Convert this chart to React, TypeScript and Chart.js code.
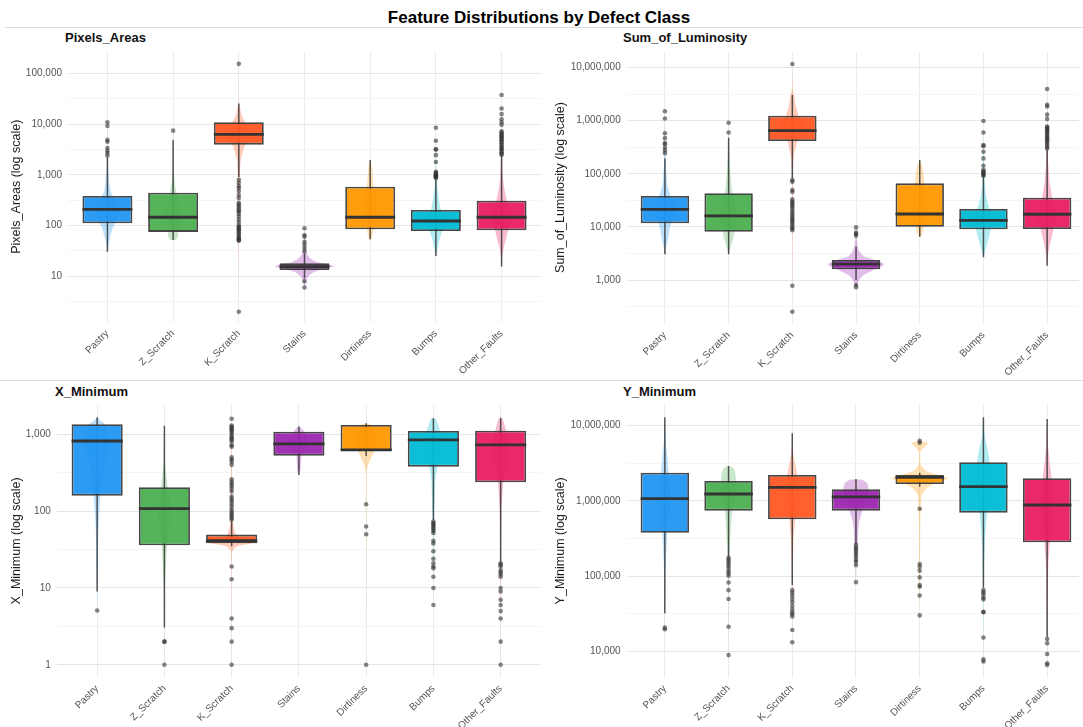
import React, { useEffect, useRef } from 'react';
import { Chart, registerables } from 'chart.js';
Chart.register(...registerables);

const FONT = '"Liberation Sans", Arial, Helvetica, sans-serif';
Chart.defaults.font.family = FONT;

const categories = ['Pastry', 'Z_Scratch', 'K_Scratch', 'Stains', 'Dirtiness', 'Bumps', 'Other_Faults'];
const classColors = ['#2196F3', '#4CAF50', '#FF5722', '#9C27B0', '#FF9800', '#00BCD4', '#E91E63'];

// Box statistics per class: [whiskerLow, q1, median, q3, whiskerHigh]
const pixelsBox = [
  [30.5, 111, 209, 384, 2200],
  [52, 75, 146, 445, 4870],
  [910, 3950, 6300, 10900, 25700],
  [9.1, 13.3, 15.5, 18, 28.5],
  [53.7, 84.5, 146, 585, 1970],
  [25, 78, 123, 203, 800],
  [15.5, 80.7, 146, 310, 2450],
];
const pixelsOutliers = [
  [10900, 9200, 4900, 4500, 3400, 3000, 2700, 2400],
  [7450],
  [155000, 800, 700, 600, 550, 480, 400, 350, 280, 260, 240, 220, 200, 190, 170, 150, 130, 115, 100, 95, 90, 85, 80, 75, 70, 65, 60, 57, 54, 52, 50, 2],
  [88.5, 65, 60, 48, 42, 36, 31, 8, 6],
  [],
  [8500, 4700, 3200, 3150, 2450, 1800, 1150, 1100, 1050, 1000, 980, 950, 920, 900, 870],
  [37700, 20400, 15800, 12500, 10900, 9700, 7200, 6800, 6400, 6000, 5700, 5400, 5100, 4800, 4500, 4200, 3900, 3600, 3400, 3200, 3000, 2800, 2600, 2500],
];
// Violin profiles per class: [value, half-width of density]
const pixelsViolin = [
  [[30, 0], [45, 0.02], [65, 0.05], [90, 0.08], [111, 0.12], [209, 0.2], [384, 0.08], [500, 0.045], [800, 0.025], [1500, 0.01], [2500, 0.005], [5000, 0.002], [10900, 0]],
  [[52, 0.04], [58, 0.07], [75, 0.08], [150, 0.12], [300, 0.09], [445, 0.05], [700, 0.025], [1000, 0.015], [2000, 0.006], [5000, 0.002], [7450, 0]],
  [[2, 0], [10, 0.001], [50, 0.004], [200, 0.007], [800, 0.012], [2000, 0.03], [3950, 0.1], [6300, 0.25], [10900, 0.1], [15000, 0.045], [20000, 0.025], [26000, 0.004], [50000, 0.001], [155000, 0]],
  [[6, 0], [8, 0.02], [10, 0.06], [12, 0.14], [14, 0.3], [15.5, 0.45], [17, 0.38], [19, 0.2], [22, 0.1], [26, 0.05], [32, 0.02], [50, 0.008], [88, 0]],
  [[53, 0.015], [60, 0.03], [85, 0.05], [150, 0.1], [300, 0.08], [585, 0.05], [900, 0.04], [1300, 0.03], [1700, 0.015], [2000, 0]],
  [[25, 0], [35, 0.025], [50, 0.05], [65, 0.075], [78, 0.1], [120, 0.2], [203, 0.08], [350, 0.04], [600, 0.02], [1000, 0.01], [2000, 0.004], [8500, 0]],
  [[15.5, 0], [25, 0.01], [40, 0.04], [55, 0.07], [80, 0.1], [146, 0.18], [310, 0.08], [600, 0.035], [1000, 0.018], [2500, 0.008], [6000, 0.003], [37700, 0]],
];
const pixelsTicks = [10, 100, 1000, 10000, 100000];
const pixelsRange = [1.27, 269000];

const lumBox = [
  [3050, 11700, 21400, 38200, 195000],
  [3050, 8130, 16200, 43000, 480000],
  [82000, 415000, 649000, 1240000, 3050000],
  [1000, 1590, 2000, 2380, 4250],
  [6550, 10100, 17500, 66200, 182000],
  [2670, 9000, 13300, 21700, 88000],
  [1860, 9120, 17300, 35500, 281000],
];
const lumOutliers = [
  [1510000, 1100000, 580000, 470000, 380000, 360000, 310000, 275000, 245000],
  [916000, 600000],
  [11700000, 76000, 71000, 49500, 45700, 33000, 30000, 28000, 26000, 24000, 22000, 20000, 18000, 16500, 15000, 14000, 13000, 12000, 11000, 10000, 9300, 8700, 780, 253],
  [9800, 7800, 7350, 6800, 805, 730],
  [],
  [990000, 600000, 350000, 330000, 260000, 195000, 142000, 118000, 112000, 106000, 100000, 95000, 92000],
  [3950000, 2000000, 1850000, 1300000, 1080000, 780000, 740000, 700000, 660000, 620000, 580000, 540000, 500000, 470000, 440000, 410000, 380000, 350000, 320000, 300000],
];
const lumViolin = [
  [[3050, 0], [4500, 0.025], [7000, 0.06], [9500, 0.08], [11700, 0.1], [21000, 0.2], [38200, 0.09], [60000, 0.04], [150000, 0.015], [300000, 0.006], [1510000, 0]],
  [[3050, 0], [4500, 0.04], [6500, 0.08], [8130, 0.09], [16000, 0.13], [43000, 0.06], [80000, 0.035], [150000, 0.02], [400000, 0.006], [916000, 0]],
  [[253, 0], [1000, 0.001], [10000, 0.004], [80000, 0.008], [200000, 0.02], [415000, 0.08], [650000, 0.22], [1240000, 0.1], [2000000, 0.05], [3000000, 0.03], [4000000, 0.006], [11700000, 0]],
  [[730, 0], [900, 0.03], [1200, 0.1], [1500, 0.25], [1800, 0.4], [2000, 0.44], [2300, 0.33], [2800, 0.12], [3500, 0.05], [5000, 0.02], [7000, 0.008], [9800, 0]],
  [[6550, 0.015], [7500, 0.04], [10100, 0.065], [17500, 0.12], [40000, 0.09], [66200, 0.075], [110000, 0.055], [150000, 0.03], [182000, 0]],
  [[2670, 0], [4000, 0.04], [6000, 0.08], [9000, 0.12], [13300, 0.2], [21700, 0.1], [40000, 0.04], [80000, 0.015], [200000, 0.005], [990000, 0]],
  [[1860, 0], [3000, 0.015], [5000, 0.05], [7000, 0.08], [9120, 0.1], [17300, 0.17], [35500, 0.08], [70000, 0.04], [150000, 0.018], [400000, 0.007], [1000000, 0.003], [3950000, 0]],
];
const lumTicks = [1000, 10000, 100000, 1000000, 10000000];
const lumRange = [153, 19950000];

const xminBox = [
  [9, 159, 818, 1350, 1665],
  [3.05, 36, 108, 205, 1294],
  [35, 38.2, 41.3, 49.5, 75],
  [296, 527, 748, 1080, 1260],
  [520, 606, 625, 1320, 1390],
  [77, 379, 843, 1105, 1615],
  [22, 238, 726, 1114, 1645],
];
const xminOutliers = [
  [5.1],
  [2, 2, 1],
  [1590, 1300, 1250, 1200, 1150, 1100, 1050, 980, 920, 880, 850, 800, 720, 690, 500, 470, 440, 400, 260, 240, 225, 210, 195, 180, 155, 145, 135, 125, 115, 105, 98, 92, 87, 82, 78, 19, 13, 4, 3, 2, 1],
  [],
  [123, 63, 50, 1],
  [73, 70, 67, 64, 61, 58, 55, 52, 41, 38, 30, 24, 21, 19, 18, 14, 10, 6],
  [21, 20, 19, 17, 16, 15, 14, 10, 9, 7, 6, 5, 4, 2, 1],
];
const xminViolin = [
  [[5, 0], [9, 0.005], [20, 0.01], [60, 0.02], [159, 0.05], [400, 0.12], [818, 0.2], [1350, 0.12], [1500, 0.05], [1665, 0]],
  [[1, 0], [3, 0.003], [10, 0.008], [36, 0.04], [108, 0.1], [205, 0.05], [400, 0.012], [800, 0.005], [1294, 0]],
  [[1, 0], [13, 0.003], [30, 0.01], [35, 0.08], [38, 0.3], [39.5, 0.42], [41, 0.3], [45, 0.15], [50, 0.06], [70, 0.02], [150, 0.01], [500, 0.005], [1590, 0]],
  [[296, 0], [350, 0.025], [527, 0.04], [748, 0.15], [1080, 0.08], [1200, 0.04], [1260, 0]],
  [[1, 0], [50, 0.003], [120, 0.004], [300, 0.005], [380, 0.02], [480, 0.07], [606, 0.12], [800, 0.18], [1320, 0.08], [1390, 0]],
  [[6, 0], [20, 0.003], [50, 0.008], [100, 0.015], [250, 0.03], [379, 0.06], [843, 0.14], [1105, 0.1], [1400, 0.06], [1600, 0.035], [1615, 0]],
  [[1, 0], [5, 0.002], [20, 0.005], [100, 0.012], [238, 0.04], [726, 0.13], [1114, 0.08], [1400, 0.05], [1600, 0.025], [1645, 0]],
];
const xminTicks = [1, 10, 100, 1000];
const xminRange = [0.705, 2404];

const yminBox = [
  [32000, 377000, 1070000, 2370000, 12900000],
  [181000, 741000, 1235000, 1840000, 2910000],
  [76000, 569000, 1515000, 2210000, 7940000],
  [273000, 741000, 1128000, 1425000, 1935000],
  [1545000, 1678000, 2050000, 2210000, 2370000],
  [70000, 697000, 1545000, 3260000, 12900000],
  [15600, 281000, 881000, 2000000, 12300000],
];
const yminOutliers = [
  [20600, 19600],
  [175000, 165000, 155000, 145000, 135000, 125000, 115000, 108000, 101000, 82000, 65000, 49500, 21200, 8900],
  [65000, 60000, 55000, 50000, 45000, 40000, 36000, 33000, 31000, 29000, 19200, 13200],
  [260000, 240000, 225000, 210000, 195000, 180000, 165000, 155000, 140000, 83000],
  [6300000, 5940000, 787000, 145000, 133000, 118000, 96000, 76000, 72000, 55000, 30000],
  [65000, 61000, 57000, 52000, 49000, 33500, 33000, 15200, 7800, 7300],
  [14600, 12800, 9200, 6920, 6580],
];
const yminViolin = [
  [[19600, 0], [32000, 0.003], [100000, 0.008], [377000, 0.04], [1070000, 0.1], [2370000, 0.06], [3500000, 0.045], [6000000, 0.015], [12900000, 0]],
  [[8900, 0], [50000, 0.003], [150000, 0.01], [300000, 0.025], [741000, 0.06], [1235000, 0.12], [1840000, 0.12], [2500000, 0.1], [2800000, 0.06], [2910000, 0]],
  [[13200, 0], [30000, 0.003], [100000, 0.008], [300000, 0.02], [569000, 0.045], [1515000, 0.1], [2210000, 0.08], [3000000, 0.05], [4500000, 0.012], [7940000, 0]],
  [[83000, 0], [150000, 0.01], [250000, 0.025], [500000, 0.045], [741000, 0.1], [1128000, 0.18], [1425000, 0.2], [1750000, 0.17], [1900000, 0.1], [1935000, 0]],
  [[30000, 0], [60000, 0.004], [130000, 0.008], [500000, 0.01], [1200000, 0.03], [1500000, 0.12], [1800000, 0.3], [2000000, 0.45], [2200000, 0.3], [2500000, 0.1], [3000000, 0.02], [4500000, 0.01], [5300000, 0.08], [5900000, 0.14], [6300000, 0]],
  [[7300, 0], [30000, 0.003], [100000, 0.008], [300000, 0.025], [697000, 0.06], [1545000, 0.12], [3260000, 0.1], [4500000, 0.075], [7000000, 0.025], [12900000, 0]],
  [[6580, 0], [15000, 0.002], [50000, 0.008], [150000, 0.02], [281000, 0.045], [881000, 0.1], [2000000, 0.07], [3500000, 0.035], [6000000, 0.012], [12300000, 0]],
];
const yminTicks = [10000, 100000, 1000000, 10000000];
const yminRange = [4590, 18840000];

type Spec = {
  title: string;
  axisTitle: string;
  box: number[][];
  outliers: number[][];
  violin: number[][][];
  ticks: number[];
  range: number[];
  frame: { left: number; top: number; width: number; height: number };
  plot: { left: number; top: number; right: number; bottom: number };
  xMax: number;
  axisTitlePad: number;
  titleLeft: number;
  titleTop: number;
};

const panels: Spec[] = [
  {
    title: 'Pixels_Areas', axisTitle: 'Pixels_Areas (log scale)',
    box: pixelsBox, outliers: pixelsOutliers, violin: pixelsViolin, ticks: pixelsTicks, range: pixelsRange,
    frame: { left: 0, top: 45, width: 545, height: 330 },
    plot: { left: 68, top: 6.7, right: 542.9, bottom: 276.7 }, xMax: 7.6, axisTitlePad: 9.3,
    titleLeft: 65, titleTop: 30,
  },
  {
    title: 'Sum_of_Luminosity', axisTitle: 'Sum_of_Luminosity (log scale)',
    box: lumBox, outliers: lumOutliers, violin: lumViolin, ticks: lumTicks, range: lumRange,
    frame: { left: 545, top: 45, width: 538, height: 330 },
    plot: { left: 81.7, top: 6.7, right: 538, bottom: 278.3 }, xMax: 7.5, axisTitlePad: 7.6,
    titleLeft: 623, titleTop: 30,
  },
  {
    title: 'X_Minimum', axisTitle: 'X_Minimum (log scale)',
    box: xminBox, outliers: xminOutliers, violin: xminViolin, ticks: xminTicks, range: xminRange,
    frame: { left: 0, top: 398, width: 545, height: 329 },
    plot: { left: 56.8, top: 7, right: 542.8, bottom: 278.7 }, xMax: 7.6, axisTitlePad: 8.8,
    titleLeft: 55, titleTop: 384,
  },
  {
    title: 'Y_Minimum', axisTitle: 'Y_Minimum (log scale)',
    box: yminBox, outliers: yminOutliers, violin: yminViolin, ticks: yminTicks, range: yminRange,
    frame: { left: 545, top: 398, width: 538, height: 329 },
    plot: { left: 81.6, top: 7, right: 538, bottom: 278.7 }, xMax: 7.5, axisTitlePad: 7.6,
    titleLeft: 623, titleTop: 384,
  },
];

function hexA(hex: string, a: number) {
  const n = parseInt(hex.slice(1), 16);
  return `rgba(${(n >> 16) & 255},${(n >> 8) & 255},${n & 255},${a})`;
}
function isPow10(v: number) {
  const l = Math.log10(v);
  return Math.abs(l - Math.round(l)) < 1e-6;
}
function fmt(v: number) {
  const s = String(Math.round(v));
  return s.replace(/\B(?=(\d{3})+(?!\d))/g, ',');
}

function buildConfig(p: Spec): any {
  const datasets: any[] = [];
  const BOX_HALF = 0.38;
  p.violin.forEach((prof, i) => {
    const cx = i + 1;
    const right = prof.map(([v, w]) => ({ x: cx + w, y: v }));
    const left = prof.slice().reverse().map(([v, w]) => ({ x: cx - w, y: v }));
    datasets.push({
      type: 'line', data: [...right, ...left], fill: 'shape',
      backgroundColor: hexA(classColors[i], 0.3), borderColor: 'rgba(0,0,0,0)', borderWidth: 0,
      pointRadius: 0, tension: 0.15, order: 10,
    });
  });
  const whiskers: any[] = [];
  p.box.forEach((b, i) => {
    whiskers.push({ x: i + 1, y: b[0] }, { x: i + 1, y: b[4] }, { x: i + 1, y: null });
  });
  datasets.push({
    type: 'line', data: whiskers, borderColor: 'rgba(45,45,45,0.8)', borderWidth: 1.5,
    pointRadius: 0, spanGaps: false, order: 9,
  });
  datasets.push({
    type: 'bar', data: p.box.map((b, i) => ({ x: i + 1, y: [b[1], b[3]] })),
    backgroundColor: classColors.map((c) => hexA(c, 0.95)), borderColor: 'rgba(50,50,50,0.9)',
    borderWidth: 1.8, borderSkipped: false, barPercentage: BOX_HALF * 2, categoryPercentage: 1, order: 8,
  });
  const medians: any[] = [];
  p.box.forEach((b, i) => {
    medians.push({ x: i + 1 - BOX_HALF, y: b[2] }, { x: i + 1 + BOX_HALF, y: b[2] }, { x: i + 1.5, y: null });
  });
  datasets.push({
    type: 'line', data: medians, borderColor: '#333333', borderWidth: 2.8,
    pointRadius: 0, spanGaps: false, order: 7,
  });
  const pts: any[] = [];
  p.outliers.forEach((arr, i) => arr.forEach((v) => pts.push({ x: i + 1, y: v })));
  datasets.push({
    type: 'scatter', data: pts, backgroundColor: 'rgba(50,50,50,0.6)', borderWidth: 0,
    pointRadius: 2.3, order: 6,
  });

  const yTickValues: number[] = [];
  p.ticks.forEach((t) => {
    [t / Math.sqrt(10), t, t * Math.sqrt(10)].forEach((v) => {
      if (v >= p.range[0] && v <= p.range[1] && !yTickValues.some((u) => Math.abs(u - v) / v < 1e-6)) yTickValues.push(v);
    });
  });
  yTickValues.sort((a, b) => a - b);

  const H = p.frame.height;
  const W = p.frame.width;
  return {
    type: 'scatter',
    data: { datasets },
    options: {
      responsive: false,
      maintainAspectRatio: false,
      animation: false,
      events: [],
      layout: { padding: { top: p.plot.top, right: W - p.plot.right, left: 0, bottom: 0 } },
      plugins: { legend: { display: false }, tooltip: { enabled: false }, title: { display: false } },
      scales: {
        x: {
          type: 'linear', min: 0.4, max: p.xMax, offset: false,
          grid: { color: '#ebebeb', lineWidth: 1, drawTicks: false, offset: false },
          border: { display: false },
          afterBuildTicks: (s: any) => { s.ticks = categories.map((_, i) => ({ value: i + 1 })); },
          afterFit: (s: any) => { s.height = H - p.plot.bottom; s.paddingLeft = 0; s.paddingRight = 0; s.paddingTop = 0; s.paddingBottom = 0; },
          ticks: {
            autoSkip: false, maxRotation: 45, minRotation: 45, padding: 6,
            color: '#555555', font: { size: 10 },
            callback: (v: any) => categories[Math.round(Number(v)) - 1] ?? '',
          },
        },
        y: {
          type: 'logarithmic', min: p.range[0], max: p.range[1],
          grid: {
            drawTicks: false,
            color: (c: any) => (c.tick && isPow10(c.tick.value) ? '#e6e6e6' : '#f0f0f0'),
            lineWidth: (c: any) => (c.tick && isPow10(c.tick.value) ? 1 : 0.7),
          },
          border: { display: false },
          afterBuildTicks: (s: any) => { s.ticks = yTickValues.map((v) => ({ value: v })); },
          afterFit: (s: any) => { s.width = p.plot.left; s.paddingLeft = 0; s.paddingRight = 0; s.paddingTop = 0; s.paddingBottom = 0; },
          ticks: {
            autoSkip: false, padding: 6, color: '#555555', font: { size: 10 },
            callback: (v: any) => (isPow10(Number(v)) ? fmt(Number(v)) : ''),
          },
          title: {
            display: true, text: p.axisTitle, color: '#1f1f1f', font: { size: 12.5 },
            padding: { top: p.axisTitlePad, bottom: 0 },
          },
        },
      },
    },
  };
}

function Panel({ spec }: { spec: Spec }) {
  const ref = useRef<HTMLCanvasElement | null>(null);
  useEffect(() => {
    if (!ref.current) return;
    const chart = new Chart(ref.current, buildConfig(spec));
    return () => chart.destroy();
  }, [spec]);
  const f = spec.frame;
  return (
    <canvas
      ref={ref}
      width={f.width}
      height={f.height}
      style={{ position: 'absolute', left: f.left, top: f.top, width: f.width, height: f.height }}
    />
  );
}

export default function App() {
  return (
    <div
      style={{
        position: 'absolute', left: 0, top: 0, width: 1083, height: 727, background: '#ffffff',
        overflow: 'hidden', fontFamily: FONT,
      }}
    >
      <div
        style={{
          position: 'absolute', left: 539, top: 7, transform: 'translateX(-50%)', whiteSpace: 'nowrap',
          fontWeight: 'bold', fontSize: 17, lineHeight: '21px', color: '#000',
        }}
      >
        Feature Distributions by Defect Class
      </div>
      <div style={{ position: 'absolute', left: 5, top: 27, width: 1078, height: 1, background: '#dcdcdc' }} />
      <div style={{ position: 'absolute', left: 0, top: 380, width: 1083, height: 1, background: '#dcdcdc' }} />
      {panels.map((p) => (
        <React.Fragment key={p.title}>
          <div
            style={{
              position: 'absolute', left: p.titleLeft, top: p.titleTop, whiteSpace: 'nowrap',
              fontWeight: 'bold', fontSize: 13, lineHeight: '16px', color: '#111',
            }}
          >
            {p.title}
          </div>
          <Panel spec={p} />
        </React.Fragment>
      ))}
    </div>
  );
}
